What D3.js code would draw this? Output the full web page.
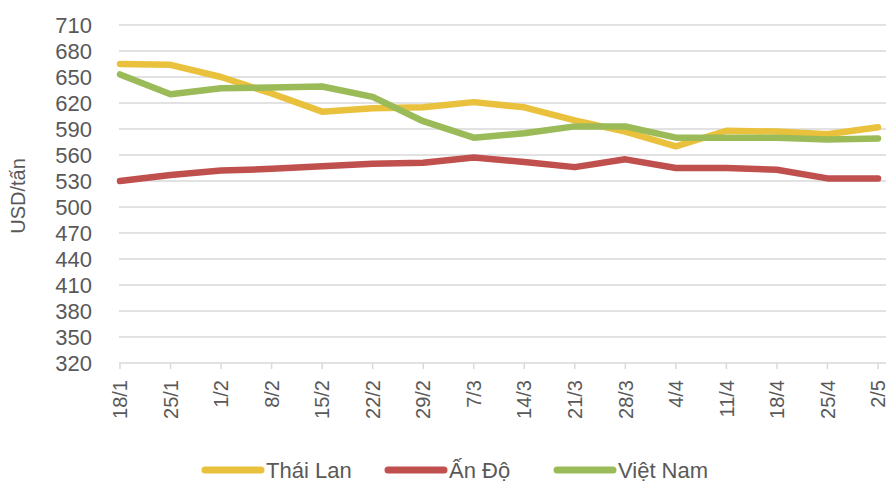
<!DOCTYPE html>
<html>
<head>
<meta charset="utf-8">
<script src="https://cdn.jsdelivr.net/npm/d3@7"></script>
<style>
  body { margin: 0; background: #fff; }
  text { font-family: "Liberation Sans", Arial, sans-serif; fill: #595959; }
</style>
</head>
<body>
<div id="chart"></div>
<script>
// dates (week of)
const dates = ["18/1","25/1","1/2","8/2","15/2","22/2","29/2","7/3","14/3","21/3","28/3","4/4","11/4","18/4","25/4","2/5"];
const thaiLan = [665, 664, 650, 631, 610, 614, 615, 621, 615, 600, 587, 570, 588, 587, 584, 592];
const anDo    = [530, 537, 542, 544, 547, 550, 551, 557, 552, 546, 555, 545, 545, 543, 533, 533];
const vietNam = [653, 630, 637, 638, 639, 627, 599, 580, 585, 593, 593, 580, 580, 580, 578, 579];
const yTicks = [320, 350, 380, 410, 440, 470, 500, 530, 560, 590, 620, 650, 680, 710];

const series = [
  { name: "Thái Lan", values: thaiLan, color: "#E9C13D" },
  { name: "Ấn Độ", values: anDo, color: "#C0504D" },
  { name: "Việt Nam", values: vietNam, color: "#9BBB59" }
];

const width = 890, height = 483;
const plotLeft = 119, plotRight = 884, plotTop = 25, plotBottom = 363;

const svg = d3.select("#chart").append("svg")
  .attr("width", width)
  .attr("height", height);

const x = d3.scalePoint().domain(dates).range([plotLeft + 1, plotRight - 6]);
const y = d3.scaleLinear().domain([320, 710]).range([plotBottom, plotTop]);

// gridlines
svg.append("g")
  .selectAll("line")
  .data(yTicks.slice(1))
  .enter()
  .append("line")
  .attr("x1", plotLeft)
  .attr("x2", plotRight + 2)
  .attr("y1", d => y(d))
  .attr("y2", d => y(d))
  .attr("stroke", "#D9D9D9")
  .attr("stroke-width", 1.5);

// y axis labels
svg.append("g")
  .selectAll("text")
  .data(yTicks)
  .enter()
  .append("text")
  .attr("x", 92)
  .attr("y", d => y(d))
  .attr("dy", "0.35em")
  .attr("text-anchor", "end")
  .style("font-size", "22px")
  .text(d => d);

// x axis
const xAxis = svg.append("g").attr("transform", `translate(0,${plotBottom})`);
xAxis.append("line")
  .attr("x1", plotLeft).attr("x2", plotRight + 2)
  .attr("stroke", "#D9D9D9").attr("stroke-width", 1.5);
xAxis.selectAll(".tick")
  .data(dates)
  .enter()
  .append("line")
  .attr("class", "tick")
  .attr("x1", d => x(d)).attr("x2", d => x(d))
  .attr("y1", 0).attr("y2", 6)
  .attr("stroke", "#D9D9D9").attr("stroke-width", 1.5);
xAxis.selectAll("text")
  .data(dates)
  .enter()
  .append("text")
  .attr("transform", d => `translate(${x(d)},17) rotate(-90)`)
  .attr("text-anchor", "end")
  .attr("dy", "0.36em")
  .style("font-size", "20px")
  .text(d => d);

// y title
svg.append("text")
  .attr("transform", "translate(18,196) rotate(-90)")
  .attr("text-anchor", "middle")
  .attr("dy", "0.35em")
  .style("font-size", "20px")
  .text("USD/tấn");

// lines
const line = d3.line()
  .x((d, i) => x(dates[i]))
  .y(d => y(d));

svg.append("g")
  .selectAll("path")
  .data(series)
  .enter()
  .append("path")
  .attr("d", d => line(d.values))
  .attr("fill", "none")
  .attr("stroke", d => d.color)
  .attr("stroke-width", 6.5)
  .attr("stroke-linejoin", "round")
  .attr("stroke-linecap", "round");

// legend
const legendX = [205, 388, 557];
const legend = svg.append("g")
  .selectAll("g")
  .data(series)
  .enter()
  .append("g")
  .attr("transform", (d, i) => `translate(${legendX[i]},470)`);
legend.append("line")
  .attr("x1", 0).attr("x2", 56)
  .attr("stroke", d => d.color)
  .attr("stroke-width", 7)
  .attr("stroke-linecap", "round");
legend.append("text")
  .attr("x", 61)
  .attr("dy", "0.35em")
  .style("font-size", "22px")
  .text(d => d.name);
</script>
</body>
</html>
